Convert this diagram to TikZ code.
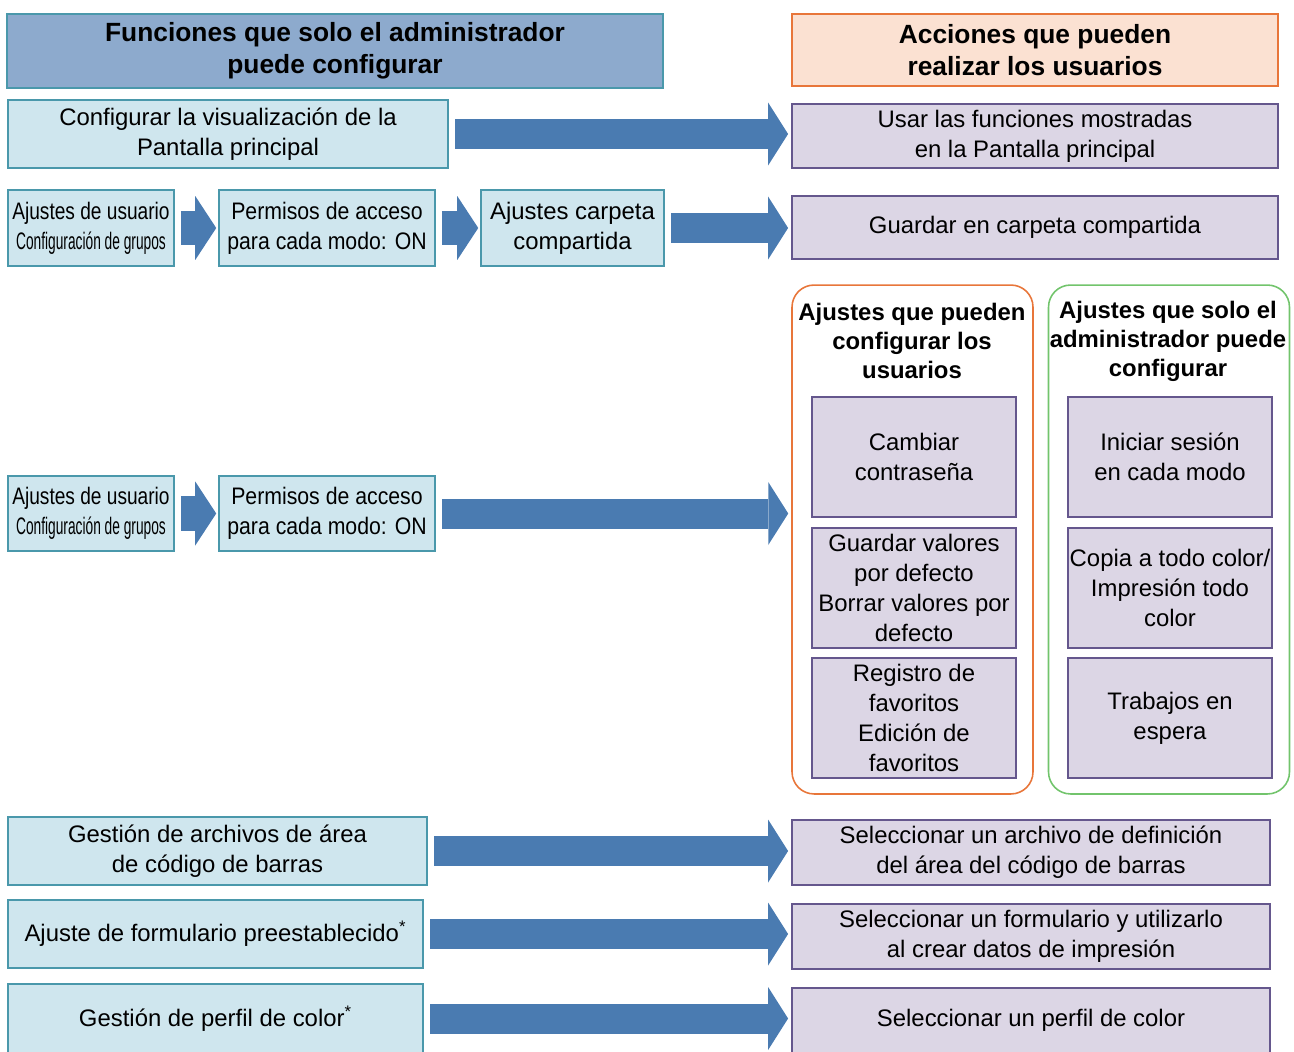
\documentclass[tikz,border=0pt]{standalone}
\usepackage{fontspec}
\usepackage{graphicx}
\setmainfont{Liberation Sans}
\usetikzlibrary{arrows.meta}

\definecolor{hdrblue}{HTML}{8DAACD}
\definecolor{hdrpeach}{HTML}{FBE1D2}
\definecolor{boxcyan}{HTML}{CFE6EE}
\definecolor{tealline}{HTML}{4A98AB}
\definecolor{lavender}{HTML}{DCD6E5}
\definecolor{purpleline}{HTML}{65578D}
\definecolor{orangeline}{HTML}{E8763A}
\definecolor{greenline}{HTML}{72C46C}
\definecolor{arrowblue}{HTML}{4A7BB1}

\newcommand{\squeeze}[2]{\scalebox{#1}[1]{#2}}

\begin{document}
\begin{tikzpicture}[x=0.02cm,y=-0.02cm,
  every node/.style={font=\fontsize{13.6}{17}\selectfont,align=center,inner sep=1pt},
  adminbox/.style={draw=tealline,line width=0.9pt,fill=boxcyan},
  userbox/.style={draw=purpleline,line width=1.1pt,fill=lavender},
  settingbox/.style={userbox,minimum width=4.08cm,minimum height=2.4cm},
  groupbox/.style={rounded corners=0.44cm,line width=0.9pt,minimum width=4.82cm,minimum height=10.18cm},
  bigarrow/.style={arrowblue,line width=0.6cm,-{Triangle[length=0.4cm,width=1.26cm,line width=0pt]},shorten <=0.13cm,shorten >=0.06cm},
  smallarrow/.style={arrowblue,line width=0.7cm,-{Triangle[length=0.42cm,width=1.28cm,line width=0pt]},shorten <=0.12cm,shorten >=0.04cm}]
  \useasboundingbox (0,0) rectangle (1294,1051);
  \clip (0,0) rectangle (1294,1051);

  % column headers
  \node[draw=tealline,line width=0.9pt,fill=hdrblue,minimum width=13.12cm,minimum height=1.48cm,
        font=\fontsize{15}{18}\selectfont\bfseries] (admin) at (335,51)
        {Funciones que solo el administrador\\puede configurar};
  \node[draw=orangeline,line width=0.9pt,fill=hdrpeach,minimum width=9.72cm,minimum height=1.44cm,
        font=\fontsize{15}{18}\selectfont\bfseries] (users) at (1035,50)
        {Acciones que pueden\\realizar los usuarios};

  % pantalla principal
  \node[adminbox,minimum width=8.8cm,minimum height=1.36cm] (pantalla) at (228,134)
        {Configurar la visualización de la\\Pantalla principal};
  \node[userbox,minimum width=9.72cm,minimum height=1.28cm] (usar) at (1035,136)
        {Usar las funciones mostradas\\en la Pantalla principal};
  \draw[bigarrow] (pantalla.east) -- (pantalla.east -| usar.west);

  % carpeta compartida
  \node[adminbox,minimum width=3.32cm,minimum height=1.52cm] (ajusr) at (91,228)
        {\squeeze{0.8}{Ajustes de usuario}\\\squeeze{0.575}{Configuración de grupos}};
  \node[adminbox,minimum width=4.32cm,minimum height=1.52cm] (permisos) at (327,228)
        {\squeeze{0.89}{Permisos de acceso}\\\squeeze{0.89}{para cada modo: ON}};
  \node[adminbox,minimum width=3.66cm,minimum height=1.52cm] (carpeta) at (572.5,228)
        {Ajustes carpeta\\compartida};
  \node[userbox,minimum width=9.72cm,minimum height=1.26cm] (guardar) at (1035,227.5)
        {Guardar en carpeta compartida};
  \draw[smallarrow] (ajusr) -- (permisos);
  \draw[smallarrow] (permisos) -- (carpeta);
  \draw[bigarrow] (carpeta.east) -- (carpeta.east -| guardar.west);

  % ajustes por modo
  \node[adminbox,minimum width=3.32cm,minimum height=1.5cm] (ajusrb) at (91,513.5)
        {\squeeze{0.8}{Ajustes de usuario}\\\squeeze{0.575}{Configuración de grupos}};
  \node[adminbox,minimum width=4.32cm,minimum height=1.5cm] (permisosb) at (327,513.5)
        {\squeeze{0.89}{Permisos de acceso}\\\squeeze{0.89}{para cada modo: ON}};
  \node[groupbox,draw=orangeline] (grpusr) at (912.5,539.5) {};
  \node[groupbox,draw=greenline] (grpadm) at (1169,539.5) {};
  \node[font=\fontsize{13.6}{16.5}\selectfont\bfseries] (grpusrt) at (912,341)
        {Ajustes que pueden\\configurar los\\usuarios};
  \node[font=\fontsize{13.6}{16.5}\selectfont\bfseries] (grpadmt) at (1168,341)
        {Ajustes que solo el\\administrador puede\\configurar};
  \node[settingbox] (cambiar) at (914,457) {Cambiar\\contraseña};
  \node[settingbox] (valores) at (914,588) {Guardar valores\\por defecto\\Borrar valores por\\defecto};
  \node[settingbox] (favoritos) at (914,718) {Registro de\\favoritos\\Edición de\\favoritos};
  \node[settingbox] (sesion) at (1170,457) {Iniciar sesión\\en cada modo};
  \node[settingbox] (todocolor) at (1170,588) {Copia a todo color/\\Impresión todo\\color};
  \node[settingbox] (espera) at (1170,718) {Trabajos en\\espera};
  \draw[smallarrow] (ajusrb) -- (permisosb);
  \draw[bigarrow] (permisosb.east) -- (permisosb.east -| grpusr.west);

  % codigo de barras
  \node[adminbox,minimum width=8.38cm,minimum height=1.36cm] (barras) at (217.5,851)
        {Gestión de archivos de área\\de código de barras};
  \node[userbox,minimum width=9.56cm,minimum height=1.3cm] (selbarras) at (1031,852.5)
        {Seleccionar un archivo de definición\\del área del código de barras};
  \draw[bigarrow] (barras.east) -- (barras.east -| selbarras.west);

  % formulario
  \node[adminbox,minimum width=8.3cm,minimum height=1.36cm] (formulario) at (215.5,934)
        {Ajuste de formulario preestablecido\textsuperscript{*}};
  \node[userbox,minimum width=9.56cm,minimum height=1.3cm] (selform) at (1031,936.5)
        {Seleccionar un formulario y utilizarlo\\al crear datos de impresión};
  \draw[bigarrow] (formulario.east) -- (formulario.east -| selform.west);

  % perfil de color
  \node[adminbox,minimum width=8.3cm,minimum height=1.38cm] (perfil) at (215.5,1018.5)
        {Gestión de perfil de color\textsuperscript{*}};
  \node[userbox,minimum width=9.56cm,minimum height=1.3cm] (selperfil) at (1031,1020.5)
        {Seleccionar un perfil de color};
  \draw[bigarrow] (perfil.east) -- (perfil.east -| selperfil.west);
\end{tikzpicture}
\end{document}
